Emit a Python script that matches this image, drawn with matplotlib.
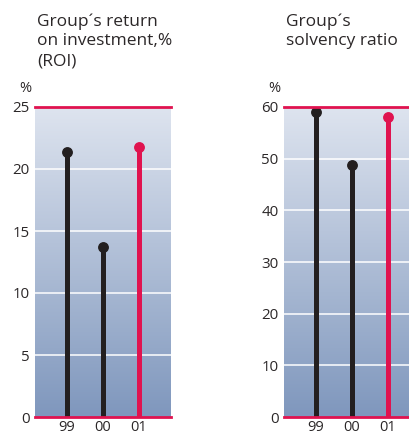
import matplotlib
matplotlib.use("Agg")
import matplotlib.pyplot as plt
import numpy as np
from matplotlib.colors import LinearSegmentedColormap

plt.rcParams['font.family'] = ['Open Sans', 'DejaVu Sans']

years = ["99", "00", "01"]
roi = [21.4, 13.7, 21.8]
solvency = [59.0, 48.7, 58.0]
roi_ticks = [0, 5, 10, 15, 20, 25]
solv_ticks = [0, 10, 20, 30, 40, 50, 60]

RED = "#e0134f"
DARK = "#231f20"
TEXT = "#2b2728"

W, H = 410, 436
fig = plt.figure(figsize=(W/100, H/100), dpi=100)
cmap = LinearSegmentedColormap.from_list("bg", ["#7f97bd", "#dee4ef"])

def panel(left_px, values, ticks, title):
    ax = fig.add_axes([left_px/W, (H-417)/H, 136/W, 310/H])
    x = np.arange(len(values))
    ymax = ticks[-1]
    ax.set_xlim(-0.89, 2.89)
    ax.set_ylim(0, ymax)
    grad = np.linspace(0, 1, 256).reshape(-1, 1)
    ax.imshow(grad, aspect='auto', cmap=cmap, origin='lower',
              extent=[-0.89, 2.89, 0, ymax], zorder=0)
    for t in ticks[1:-1]:
        ax.axhline(t, color='white', lw=1.1, zorder=1)
    cols = [DARK, DARK, RED]
    for xi, v, c in zip(x, values, cols):
        ax.plot([xi, xi], [0, v], color=c, lw=3.6, solid_capstyle='butt', zorder=2)
        ax.plot([xi], [v], 'o', color=c, ms=6.8, zorder=3, clip_on=False)
    for s in ['left', 'right']:
        ax.spines[s].set_visible(False)
    for s in ['top', 'bottom']:
        ax.spines[s].set_color(RED)
        ax.spines[s].set_linewidth(2)
        ax.spines[s].set_zorder(4)
    ax.set_yticks(ticks)
    ax.set_yticklabels([str(t) for t in ticks], fontsize=10.8, color=TEXT)
    ax.set_xticks(x)
    ax.set_xticklabels(years, fontsize=10.5, color=TEXT)
    ax.tick_params(axis='both', length=0)
    ax.tick_params(axis='y', pad=4)
    ax.tick_params(axis='x', pad=2)
    fig.text((left_px - 10)/W, 1 - 88/H, "%", fontsize=10.5, color=TEXT,
             ha='center', va='center')
    fig.text((left_px + 2)/W, 1 - 13/H, title, fontsize=12.5, color=TEXT,
             ha='left', va='top', linespacing=1.32)
    return ax

panel(35, roi, roi_ticks, "Group´s return\non investment,%\n(ROI)")
panel(284, solvency, solv_ticks, "Group´s\nsolvency ratio")

fig.savefig("out.png", dpi=100)
